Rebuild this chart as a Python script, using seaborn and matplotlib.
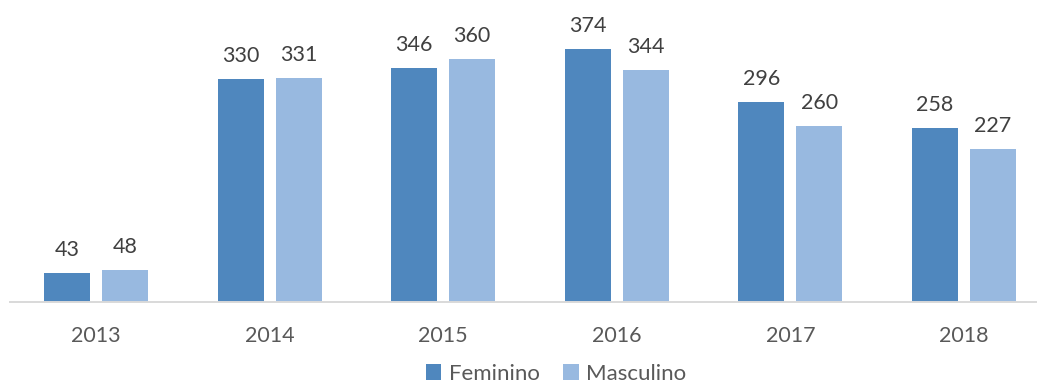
import matplotlib
matplotlib.use("Agg")
import matplotlib.pyplot as plt
import seaborn as sns
import pandas as pd
from matplotlib.patches import Patch

# Data
years = ["2013", "2014", "2015", "2016", "2017", "2018"]
feminino = [43, 330, 346, 374, 296, 258]
masculino = [48, 331, 360, 344, 260, 227]
series_names = ["Feminino", "Masculino"]
colors = ["#4F87BE", "#98B9E0"]

df = pd.DataFrame({
    "ano": years * 2,
    "valor": feminino + masculino,
    "sexo": [series_names[0]] * len(years) + [series_names[1]] * len(years),
})

sns.set_theme(style="white")
plt.rcParams["font.family"] = ["Lato", "DejaVu Sans"]

fig = plt.figure(figsize=(10.37, 3.83), dpi=100)
ax = fig.add_axes([10 / 1037, 81 / 383, 1027 / 1037, 302 / 383])

sns.barplot(data=df, x="ano", y="valor", hue="sexo", palette=colors,
            width=0.668, gap=0.207, ax=ax, legend=False, saturation=1,
            edgecolor="none")

ax.set_xlim(-0.495, 5.42)
ax.set_ylim(0, 447)
ax.set_xlabel("")
ax.set_ylabel("")
ax.set_yticks([])
for side in ["left", "right", "top"]:
    ax.spines[side].set_visible(False)
ax.spines["bottom"].set_color("#D9D9D9")
ax.spines["bottom"].set_linewidth(1.4)
ax.tick_params(axis="x", length=0, pad=17.5, labelsize=15.5, labelcolor="#595959")

# Value labels above each bar
for container in ax.containers:
    for bar in container:
        h = bar.get_height()
        ax.annotate(f"{int(round(h))}", (bar.get_x() + bar.get_width() / 2, h),
                    xytext=(0, 12.2), textcoords="offset points",
                    ha="center", va="baseline", fontsize=15.5, color="#404040")

handles = [Patch(facecolor=c, edgecolor="none") for c in colors]
fig.legend(handles, series_names, loc="center", bbox_to_anchor=(556 / 1037, 9 / 383),
           ncol=2, frameon=False, fontsize=16, labelcolor="#595959",
           handlelength=0.7, handleheight=0.7, handletextpad=0.35,
           columnspacing=1.05, borderpad=0)

fig.savefig("out.png", dpi=100)
